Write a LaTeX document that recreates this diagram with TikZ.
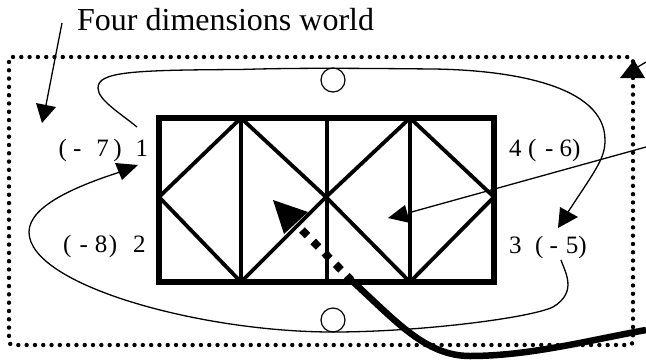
\documentclass[tikz,border=0pt]{standalone}
\usepackage{fontspec}
\setmainfont{Liberation Serif}
\tikzset{
  thinline/.style={draw=black,line width=1.3pt},
  gridline/.style={draw=black,line width=3.8pt},
  tiphead/.style={fill=black,draw=none},
  numlabel/.style={inner sep=0pt,anchor=base west,font=\fontsize{25}{25}\selectfont},
  hole/.style={circle,draw=black,line width=1.2pt,fill=white,minimum size=24pt,inner sep=0pt}
}
\begin{document}
\begin{tikzpicture}[x=1pt,y=-1pt]
\useasboundingbox (0,0) rectangle (646,360);
% outer world border:
\path[draw=black,line width=4.4pt,line cap=round,rounded corners=4pt,dash pattern=on 0pt off 8.3pt] (9,57) -- (633,57) -- (633,345) -- (9,345) -- cycle;
% named points of the grid:
\coordinate (nwcorner) at (159,118);
\coordinate (necorner) at (494,118);
\coordinate (secorner) at (494,282);
\coordinate (swcorner) at (159,282);
\coordinate (topa) at (241,118);
\coordinate (topb) at (327,118);
\coordinate (topc) at (410,118);
\coordinate (bota) at (241,282);
\coordinate (botb) at (327,282);
\coordinate (botc) at (410,282);
\coordinate (midw) at (159,197);
\coordinate (midc) at (326,197);
\coordinate (mide) at (494,197);
% grid lines:
\path[gridline] (topa) -- (bota);
\path[gridline] (topb) -- (botb);
\path[gridline] (topc) -- (botc);
\path[gridline] (midw) -- (topa) -- (midc) -- (topc) -- (mide) -- (botc) -- (midc) -- (bota) -- cycle;
\path[draw=black,line width=5.5pt] (nwcorner) -- (necorner) -- (secorner) -- (swcorner) -- cycle;
% cable, going in:
\coordinate (cablein) at (302,230);
\coordinate (cablejoin) at (351,280);
\coordinate (cableout) at (646,330);
\path[draw=black,line width=7.8pt,dash pattern=on 7.8pt off 8.2pt] (cablein) -- (cablejoin);
\path[draw=black,line width=6.5pt] (cablejoin) .. controls (395,320) and (425,356) .. (470,356) .. controls (530,356) and (590,340) .. (cableout);
\path[tiphead] (273,200) -- (308,212) -- (284,234) -- cycle;
% holes:
\node[hole] (holetop) at (333,80) {};
\node[hole] (holebot) at (333,320) {};
% labels:
\node[inner sep=0pt,anchor=base west,font=\fontsize{32}{32}\selectfont] (title) at (77,30) {Four dimensions world};
\node[numlabel] (labela) at (58.5,156) {(\hspace{6pt}-\hspace{15pt}7\hspace{4.5pt})\hspace{14pt}1};
\node[numlabel] (labelb) at (63,252) {(\hspace{8pt}-\hspace{7pt}8\hspace{1.5pt})\hspace{16pt}2};
\node[numlabel] (labelc) at (509,253) {3\hspace{13.5pt}(\hspace{6pt}-\hspace{8pt}5)};
\node[numlabel] (labeld) at (509,156) {4\hspace{6.5pt}(\hspace{8.7pt}-\hspace{6pt}6)};
% long curves:
\coordinate (curveastart) at (137,127);
\coordinate (curvebstart) at (561,260);
\path[thinline] (curveastart) .. controls (120,113) and (98,100) .. (98,88) .. controls (98,72) and (130,70) .. (240,69.5) .. controls (290,68) and (333,68) .. (433,69) .. controls (510,70) and (605,85) .. (605,140) .. controls (605,158) and (597,168) .. (568,212);
\path[tiphead] (558,228) -- (560,207) -- (578,217) -- cycle;
\path[thinline] (curvebstart) .. controls (565,272) and (578,292) .. (553,307) .. controls (530,318) and (420,332) .. (333,332) .. controls (200,332) and (29,285) .. (29,232) .. controls (29,205) and (80,185) .. (120,172);
\path[tiphead] (138,165) -- (115,163) -- (122,180) -- cycle;
% pointers from outside:
\coordinate (worldfrom) at (62,23);
\coordinate (worldhit) at (46,105);
\path[thinline] (worldfrom) -- (worldhit);
\path[tiphead] (42,123) -- (36,103) -- (56,107) -- cycle;
\coordinate (edgefrom) at (646,62);
\coordinate (edgehit) at (636,68);
\path[thinline] (edgefrom) -- (edgehit);
\path[tiphead] (634,60) -- (620,78) -- (645,78) -- cycle;
\coordinate (middlefrom) at (646,147);
\coordinate (middlehit) at (408,213);
\path[thinline] (middlefrom) -- (middlehit);
\path[tiphead] (388,218) -- (405,205) -- (410,223) -- cycle;
\end{tikzpicture}
\end{document}
